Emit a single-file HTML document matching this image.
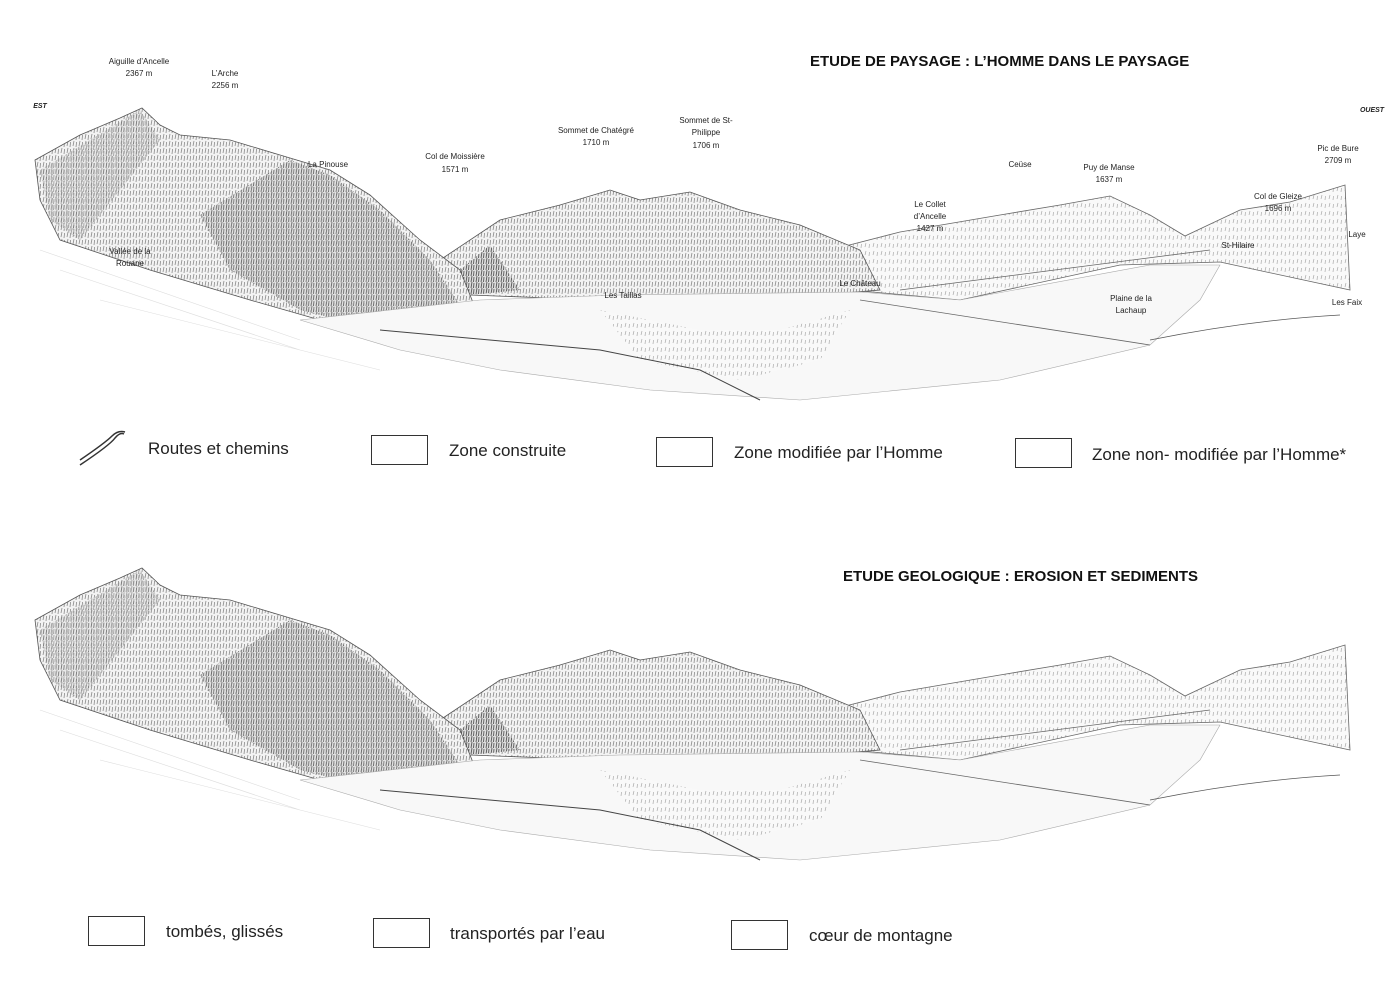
<!DOCTYPE html>
<html><head><meta charset="utf-8"><style>
body{margin:0;background:#fff;width:1399px;height:989px;overflow:hidden;font-family:"Liberation Sans",sans-serif}
svg{position:absolute;left:0;top:0}
.l{font-size:8px;fill:#222;text-anchor:middle}
.t{font-size:15px;font-weight:bold;fill:#111}
.g{font-size:17px;fill:#222}
</style></head><body>
<svg width="1399" height="989" viewBox="0 0 1399 989">
<defs>
<pattern id="h" width="6" height="7" patternUnits="userSpaceOnUse">
<rect width="6" height="7" fill="#f3f3f3"/>
<path d="M1 6 L2 1 M4 7 L4.6 2" stroke="#8a8a8a" stroke-width="0.8"/>
</pattern>
<pattern id="hd" width="5" height="6" patternUnits="userSpaceOnUse">
<rect width="5" height="6" fill="#dedede"/>
<path d="M1 6 L2 0 M3.5 6 L4 1" stroke="#555" stroke-width="0.9"/>
</pattern>
<pattern id="hl" width="8" height="8" patternUnits="userSpaceOnUse">
<rect width="8" height="8" fill="#f9f9f9"/>
<path d="M1 7 L2 3 M5 8 L5.5 4" stroke="#aaa" stroke-width="0.7"/>
</pattern>
<g id="land">
<path d="M830 250 L900 232 L1000 215 L1060 205 L1110 196 L1150 215 L1185 236 L1240 210 L1290 202 L1345 185 L1350 290 L1220 262 L1120 265 L960 300 L850 290 Z" fill="url(#hl)" stroke="#666" stroke-width="0.8"/>
<path d="M440 260 L500 220 L560 205 L610 190 L640 200 L690 192 L740 210 L800 225 L860 250 L880 290 L760 300 L600 300 L470 295 Z" fill="url(#h)" stroke="#555" stroke-width="0.8"/>
<path d="M460 270 L490 245 L520 290 L470 295 Z" fill="url(#hd)"/>
<path d="M35 160 L80 135 L120 118 L142 108 L160 125 L180 135 L230 140 L290 158 L330 170 L370 195 L420 240 L460 270 L480 320 L400 330 L320 320 L250 300 L150 270 L60 240 L40 200 Z" fill="url(#h)" stroke="#555" stroke-width="0.8"/>
<path d="M200 215 L290 160 L330 175 L380 210 L430 260 L470 320 L380 330 L300 310 L230 270 Z" fill="url(#hd)" opacity="0.8"/>
<path d="M40 170 L90 140 L140 110 L160 140 L120 190 L80 240 L50 220 Z" fill="url(#hd)" opacity="0.5"/>
<path d="M300 320 L480 300 L620 295 L860 292 L960 300 L1150 265 L1220 265 L1200 300 L1150 345 L1000 380 L800 400 L650 390 L500 370 L400 350 Z" fill="#f8f8f8" stroke="#aaa" stroke-width="0.6"/>
<path d="M600 310 L700 330 L780 330 L850 310 L820 360 L740 380 L640 360 Z" fill="url(#hl)"/>
<path d="M380 330 L600 350 L700 370 L760 400" stroke="#444" fill="none" stroke-width="1"/>
<path d="M860 300 L1150 345" stroke="#666" fill="none" stroke-width="0.8"/>
<path d="M900 290 L1210 250" stroke="#666" fill="none" stroke-width="0.8"/>
<path d="M1150 340 Q1250 320 1340 315" stroke="#555" fill="none" stroke-width="0.8"/>
<path d="M40 250 L300 340 M60 270 L300 350 M100 300 L380 370" stroke="#ddd" stroke-width="0.6"/>
</g>
</defs>
<use href="#land"/>
<use href="#land" transform="translate(0,460)"/>

<text class="t" x="810" y="66">ETUDE DE PAYSAGE : L’HOMME DANS LE PAYSAGE</text>
<text class="t" x="843" y="581">ETUDE GEOLOGIQUE : EROSION ET SEDIMENTS</text>

<text class="l" x="139" y="64">Aiguille d’Ancelle</text><text class="l" x="139" y="76">2367 m</text>
<text class="l" x="225" y="76">L’Arche</text><text class="l" x="225" y="88">2256 m</text>
<text class="l" x="40" y="108" style="font-style:italic;font-weight:bold;font-size:7px">EST</text>
<text class="l" x="1372" y="112" style="font-style:italic;font-weight:bold;font-size:7px">OUEST</text>
<text class="l" x="328" y="167">La Pinouse</text>
<text class="l" x="455" y="159">Col de Moissière</text><text class="l" x="455" y="172">1571 m</text>
<text class="l" x="596" y="133">Sommet de Chatégré</text><text class="l" x="596" y="145">1710 m</text>
<text class="l" x="706" y="123">Sommet de St-</text><text class="l" x="706" y="135">Philippe</text><text class="l" x="706" y="148">1706 m</text>
<text class="l" x="1020" y="167">Ceüse</text>
<text class="l" x="1109" y="170">Puy de Manse</text><text class="l" x="1109" y="182">1637 m</text>
<text class="l" x="1338" y="151">Pic de Bure</text><text class="l" x="1338" y="163">2709 m</text>
<text class="l" x="1278" y="199">Col de Gleize</text><text class="l" x="1278" y="211">1696 m</text>
<text class="l" x="930" y="207">Le Collet</text><text class="l" x="930" y="219">d’Ancelle</text><text class="l" x="930" y="231">1427 m</text>
<text class="l" x="1357" y="237">Laye</text>
<text class="l" x="1238" y="248">St-Hilaire</text>
<text class="l" x="130" y="254">Vallée de la</text><text class="l" x="130" y="266">Rouane</text>
<text class="l" x="860" y="286">Le Château</text>
<text class="l" x="623" y="298">Les Taillas</text>
<text class="l" x="1131" y="301">Plaine de la</text><text class="l" x="1131" y="313">Lachaup</text>
<text class="l" x="1347" y="305">Les Faix</text>

<path d="M80 465 Q110 445 115 438 Q120 432 124 434 M80 460 Q105 443 112 436 Q118 430 125 432" stroke="#333" fill="none" stroke-width="1.5"/>
<text class="g" x="148" y="454">Routes et chemins</text>
<rect x="371.5" y="435.5" width="56" height="29" fill="none" stroke="#333"/>
<text class="g" x="449" y="456">Zone construite</text>
<rect x="656.5" y="437.5" width="56" height="29" fill="none" stroke="#333"/>
<text class="g" x="734" y="458">Zone modifiée par l’Homme</text>
<rect x="1015.5" y="438.5" width="56" height="29" fill="none" stroke="#333"/>
<text class="g" x="1092" y="460">Zone non- modifiée par l’Homme*</text>

<rect x="88.5" y="916.5" width="56" height="29" fill="none" stroke="#333"/>
<text class="g" x="166" y="937">tombés, glissés</text>
<rect x="373.5" y="918.5" width="56" height="29" fill="none" stroke="#333"/>
<text class="g" x="450" y="939">transportés par l’eau</text>
<rect x="731.5" y="920.5" width="56" height="29" fill="none" stroke="#333"/>
<text class="g" x="809" y="941">cœur de montagne</text>
</svg>
</body></html>
